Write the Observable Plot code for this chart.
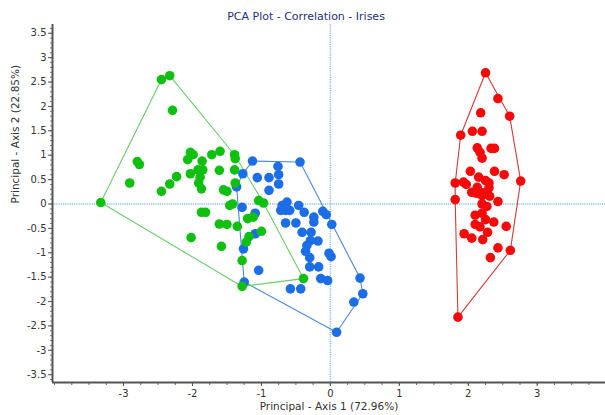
<!DOCTYPE html>
<html><head><meta charset="utf-8">
<script src="https://cdn.jsdelivr.net/npm/d3@7"></script>
<script src="https://cdn.jsdelivr.net/npm/@observablehq/plot@0.6"></script>
<style>body{margin:0;background:#fff} svg{display:block}</style>
</head><body><div id="chart"></div>
<script>
const title = "PCA Plot - Correlation - Irises";
const xLabel = "Principal - Axis 1 (72.96%)";
const yLabel = "Principal - Axis 2 (22.85%)";
const xTicks = [-3, -2, -1, 0, 1, 2, 3];
const yTicks = [-3.5, -3, -2.5, -2, -1.5, -1, -0.5, 0, 0.5, 1, 1.5, 2, 2.5, 3, 3.5];
const xDomain = [-4.03, 3.99];
const yDomain = [-3.66, 3.68];

// Red group (right)
const redPts = [
  [2.25,2.69],[2.43,2.16],[2.60,1.80],[2.18,1.87],[2.06,1.49],[2.20,1.49],[1.89,1.41],
  [2.13,1.15],[2.17,1.06],[2.33,1.14],[2.38,1.14],[2.20,0.94],[2.03,0.67],[2.38,0.67],
  [2.52,0.60],[2.76,0.47],[1.81,0.43],[1.93,0.45],[2.15,0.55],[2.25,0.48],[2.30,0.43],
  [2.13,0.34],[2.05,0.24],[2.21,0.23],[2.31,0.16],[1.81,0.09],[2.20,0.17],[2.20,0.00],
  [2.43,0.05],[2.20,-0.19],[2.25,-0.32],[2.37,-0.37],[2.10,-0.42],[2.17,-0.47],[2.55,-0.46],
  [2.28,-0.58],[1.94,-0.61],[2.05,-0.70],[2.21,-0.73],[2.43,-0.90],[2.61,-0.95],[2.32,-1.10],
  [1.85,-2.32],[1.97,0.40],[2.30,0.33],[2.12,0.22],[2.27,-0.05],[2.10,-0.23]
];
// Green group (left)
const greenPts = [
  [-2.45,2.55],[-2.33,2.63],[-2.29,1.92],[-2.80,0.87],[-2.77,0.81],[-2.91,0.43],[-2.45,0.26],
  [-2.33,0.41],[-2.23,0.56],[-3.33,0.03],[-2.03,1.06],[-1.99,1.01],[-2.07,0.91],[-1.86,0.88],
  [-2.03,0.62],[-1.92,0.70],[-1.85,0.70],[-1.89,0.55],[-1.91,0.43],[-1.87,0.31],[-1.72,1.01],
  [-1.60,1.08],[-1.61,0.69],[-1.39,1.01],[-1.39,0.70],[-1.38,0.43],[-1.55,0.29],[-1.50,0.26],
  [-1.46,-0.03],[-1.04,0.07],[-0.97,0.02],[-1.87,-0.17],[-1.81,-0.17],[-1.61,-0.41],[-1.50,-0.42],
  [-1.35,-0.46],[-1.20,-0.30],[-1.12,-0.27],[-1.00,-0.56],[-1.18,-0.67],[-1.22,-0.78],[-2.02,-0.69],
  [-1.58,-0.87],[-1.28,-1.16],[-1.28,-1.69],[-0.39,-1.53],[-1.38,0.93],[-1.42,0.00]
];
// Blue group (middle)
const bluePts = [
  [-1.13,0.88],[-0.44,0.86],[-0.76,0.77],[-0.75,0.60],[-1.27,0.62],[-1.06,0.54],[-0.89,0.54],
  [-0.75,0.41],[-0.89,0.28],[-1.28,-0.07],[-1.09,-0.19],[-1.09,-0.61],[-1.26,-0.92],[-1.04,-1.36],
  [-1.25,-1.60],[-0.70,-0.03],[-0.63,0.04],[-0.65,-0.13],[-0.72,-0.13],[-0.59,-0.13],[-0.46,-0.03],
  [-0.38,-0.17],[-0.24,-0.27],[-0.24,-0.37],[-0.11,-0.15],[-0.06,-0.22],[0.02,-0.42],[-0.65,-0.39],
  [-0.50,-0.39],[-0.41,-0.58],[-0.28,-0.58],[-0.29,-0.75],[-0.18,-0.76],[-0.34,-0.85],[-0.36,-0.97],
  [-0.30,-1.10],[-0.02,-1.01],[0.01,-1.08],[-0.30,-1.29],[-0.17,-1.29],[-0.14,-1.53],[-0.04,-1.57],
  [-0.58,-1.74],[-0.43,-1.74],[0.43,-1.52],[0.47,-1.84],[0.34,-2.01],[0.09,-2.63],[-1.36,0.35]
];

const groups = [
  {name: "red", pts: redPts, fill: "#f50a0a", stroke: "#d23a3a"},
  {name: "blue", pts: bluePts, fill: "#1c6ee6", stroke: "#4a8ad6"},
  {name: "green", pts: greenPts, fill: "#10c010", stroke: "#6acc6a"}
];

const toRows = g => g.pts.map(([x, y]) => ({x, y}));
const hullMark = g => {
  const rows = toRows(g);
  if (Plot.hull) return Plot.hull(rows, {x: "x", y: "y", stroke: g.stroke, strokeWidth: 1.1});
  const h = d3.polygonHull(g.pts.map(p => [p[0], p[1]]));
  const ring = h.concat([h[0]]).map(([x, y]) => ({x, y}));
  return Plot.line(ring, {x: "x", y: "y", stroke: g.stroke, strokeWidth: 1.1});
};

const xMinor = d3.range(-4, 4.001, 0.25);
const yMinor = d3.range(-3.6, 3.601, 0.1).map(v => Math.round(v * 10) / 10);
const fmt = d => String(d);
const font = "DejaVu Sans, Verdana, sans-serif";

const chart = Plot.plot({
  width: 605,
  height: 415,
  marginLeft: 52,
  marginRight: 0,
  marginTop: 24,
  marginBottom: 33,
  style: {fontFamily: font, fontSize: "10px", color: "#333", background: "#fff"},
  x: {domain: xDomain},
  y: {domain: yDomain},
  marks: [
    Plot.ruleY([0], {stroke: "#8cbfe4", strokeWidth: 1.5, strokeDasharray: "1.2,1"}),
    Plot.ruleX([0], {stroke: "#8cbfe4", strokeWidth: 1.5, strokeDasharray: "1.2,1"}),
    ...groups.map(hullMark),
    ...groups.map(g => Plot.dot(toRows(g), {x: "x", y: "y", r: 4.8, fill: g.fill, stroke: "none"})),
    Plot.axisX({ticks: xMinor, tickSize: 3, text: null, stroke: "#666", label: null}),
    Plot.axisX({ticks: xTicks, tickSize: 4, tickPadding: 3, tickFormat: fmt, stroke: "#555", fill: "#333", label: null}),
    Plot.axisY({ticks: yMinor, tickSize: 2, text: null, stroke: "#777", label: null}),
    Plot.axisY({ticks: yTicks, tickSize: 4, tickPadding: 2, tickFormat: fmt, stroke: "#555", fill: "#333", label: null}),
    Plot.ruleX([xDomain[0]], {stroke: "#555", strokeWidth: 2}),
    Plot.ruleY([yDomain[0]], {stroke: "#555", strokeWidth: 2}),
    Plot.text([title], {frameAnchor: "top", dy: -12, dx: -23, fill: "#1f2f7a", fontSize: 11}),
    Plot.text([xLabel], {frameAnchor: "bottom", dy: 27.5, fill: "#333", fontSize: 10.5}),
    Plot.text([yLabel], {frameAnchor: "left", dx: -37, rotate: -90, fill: "#333", fontSize: 10.5})
  ]
});
document.getElementById("chart").appendChild(chart);
</script></body></html>
